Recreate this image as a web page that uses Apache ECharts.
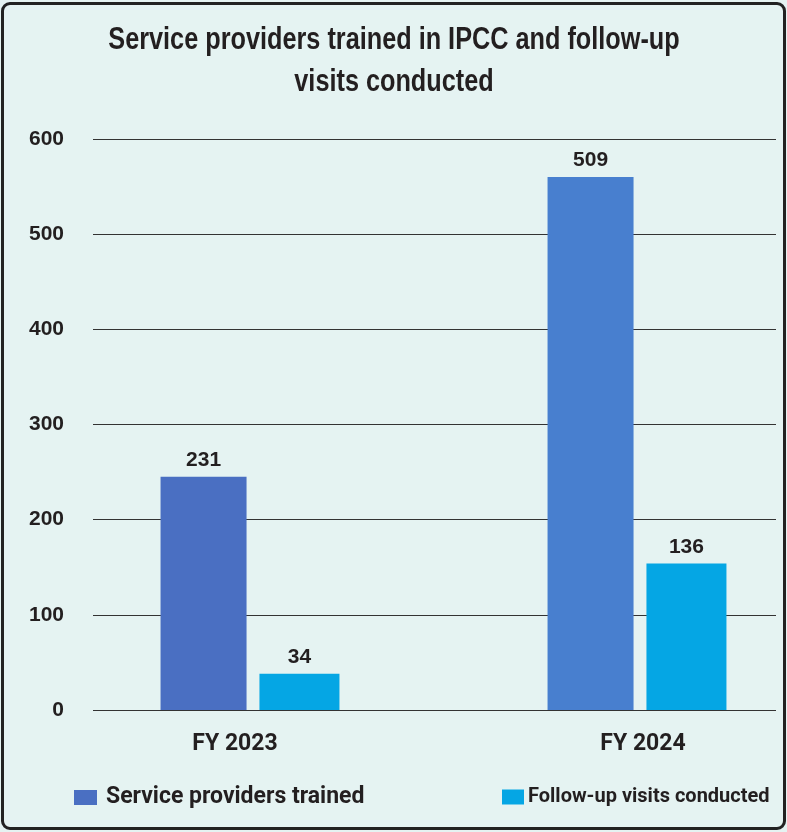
<!DOCTYPE html>
<html>
<head>
<meta charset="utf-8">
<script src="https://cdn.jsdelivr.net/npm/echarts@6/dist/echarts.min.js"></script>
<style>
    html, body { margin: 0; padding: 0; background: #fff; }
    #chart { position: absolute; left: 0; top: 0; width: 787px; height: 832px; }
    #frame {
        position: absolute; left: 1px; top: 2px; width: 785px; height: 828px;
        box-sizing: border-box; border: 3px solid #222; border-radius: 9px;
        pointer-events: none;
    }
</style>
</head>
<body>
<div id="chart"></div>
<div id="frame"></div>
<script>
// 数据
const categories = ['FY 2023', 'FY 2024']
const seriesNames = ['Service providers trained', 'Follow-up visits conducted']
// 柱高（按图上刻度读出）
const trainedHeights = [245, 560]
const visitsHeights = [38, 154]
// 柱顶标注文字
const trainedLabels = [231, 509]
const visitsLabels = [34, 136]
const yTicks = [0, 100, 200, 300, 400, 500, 600]
const titleLines = ['Service providers trained in IPCC and follow-up', 'visits conducted']

const narrow = "Roboto, 'Liberation Sans', sans-serif"
const wide = "'Liberation Sans', Arial, sans-serif"
const ink = '#231f20'
const trainedColors = ['#4A6FC2', '#487FCF']
const visitsColor = '#05A6E4'
// 类目标签微调（原图两个标签并不对称）
const catLabelPadding = [[0, 30, 0, 0], [0, 0, 6, 12]]

const chart = echarts.init(document.getElementById('chart'))

const labelOf = arr => ({
    show: true,
    position: 'top',
    distance: 6,
    color: ink,
    fontFamily: wide,
    fontWeight: 'bold',
    fontSize: 21,
    formatter: p => arr[p.dataIndex]
})

// 标题用压缩字形（横向缩放）
const titleGraphic = titleLines.map((t, i) => ({
    type: 'text',
    x: 394,
    y: 40 + i * 42,
    scaleX: 0.815,
    style: {
        text: t,
        font: "bold 31px 'Liberation Sans', Arial, sans-serif",
        fill: ink,
        textAlign: 'center',
        textVerticalAlign: 'middle'
    }
}))

const legendText = { fontFamily: narrow, fontWeight: 'bold', fontSize: 23, color: ink }

const options = {
    backgroundColor: '#E5F3F2',
    animation: false,
    graphic: titleGraphic,
    legend: [
        {
            data: [seriesNames[0]],
            left: 74, top: 786,
            padding: 0,
            itemWidth: 23, itemHeight: 15,
            icon: 'rect',
            textStyle: { ...legendText, padding: [0, 0, 0, 4] }
        },
        {
            data: [seriesNames[1]],
            left: 502, top: 787,
            padding: 0,
            itemWidth: 22, itemHeight: 15,
            icon: 'rect',
            textStyle: { ...legendText, fontSize: 20, padding: [0, 0, 0, -1] }
        }
    ],
    grid: [
        { left: 93, right: 11, top: 139, bottom: 122 },
        { left: 250, width: 387, top: 139, bottom: 122 }
    ],
    xAxis: [
        { type: 'category', gridIndex: 0, data: categories, show: false },
        {
            type: 'category', gridIndex: 1,
            data: categories.map((c, i) => ({ value: c, textStyle: { padding: catLabelPadding[i] } })),
            boundaryGap: false,
            axisLine: { show: false },
            axisTick: { show: false },
            axisLabel: {
                margin: 23,
                fontFamily: narrow,
                fontWeight: 'bold',
                fontSize: 23,
                color: ink
            }
        }
    ],
    yAxis: [
        {
            type: 'value', gridIndex: 0,
            min: yTicks[0], max: yTicks[yTicks.length - 1], interval: 100,
            axisLine: { show: false },
            axisTick: { show: false },
            axisLabel: {
                margin: 29,
                fontFamily: wide,
                fontWeight: 'bold',
                fontSize: 21,
                color: ink
            },
            splitLine: { lineStyle: { color: '#333', width: 1.2 } }
        },
        {
            type: 'value', gridIndex: 1,
            min: yTicks[0], max: yTicks[yTicks.length - 1], interval: 100,
            show: false,
            splitLine: { show: false }
        }
    ],
    series: [
        {
            name: seriesNames[0],
            type: 'bar',
            xAxisIndex: 1, yAxisIndex: 1,
            barWidth: 86,
            barGap: '15%',
            itemStyle: { color: trainedColors[0] },
            data: trainedHeights.map((v, i) => ({ value: v, itemStyle: { color: trainedColors[i] } })),
            label: labelOf(trainedLabels)
        },
        {
            name: seriesNames[1],
            type: 'bar',
            xAxisIndex: 1, yAxisIndex: 1,
            barWidth: 80,
            itemStyle: { color: visitsColor },
            data: visitsHeights,
            label: labelOf(visitsLabels)
        }
    ]
}

chart.setOption(options)
</script>
</body>
</html>
